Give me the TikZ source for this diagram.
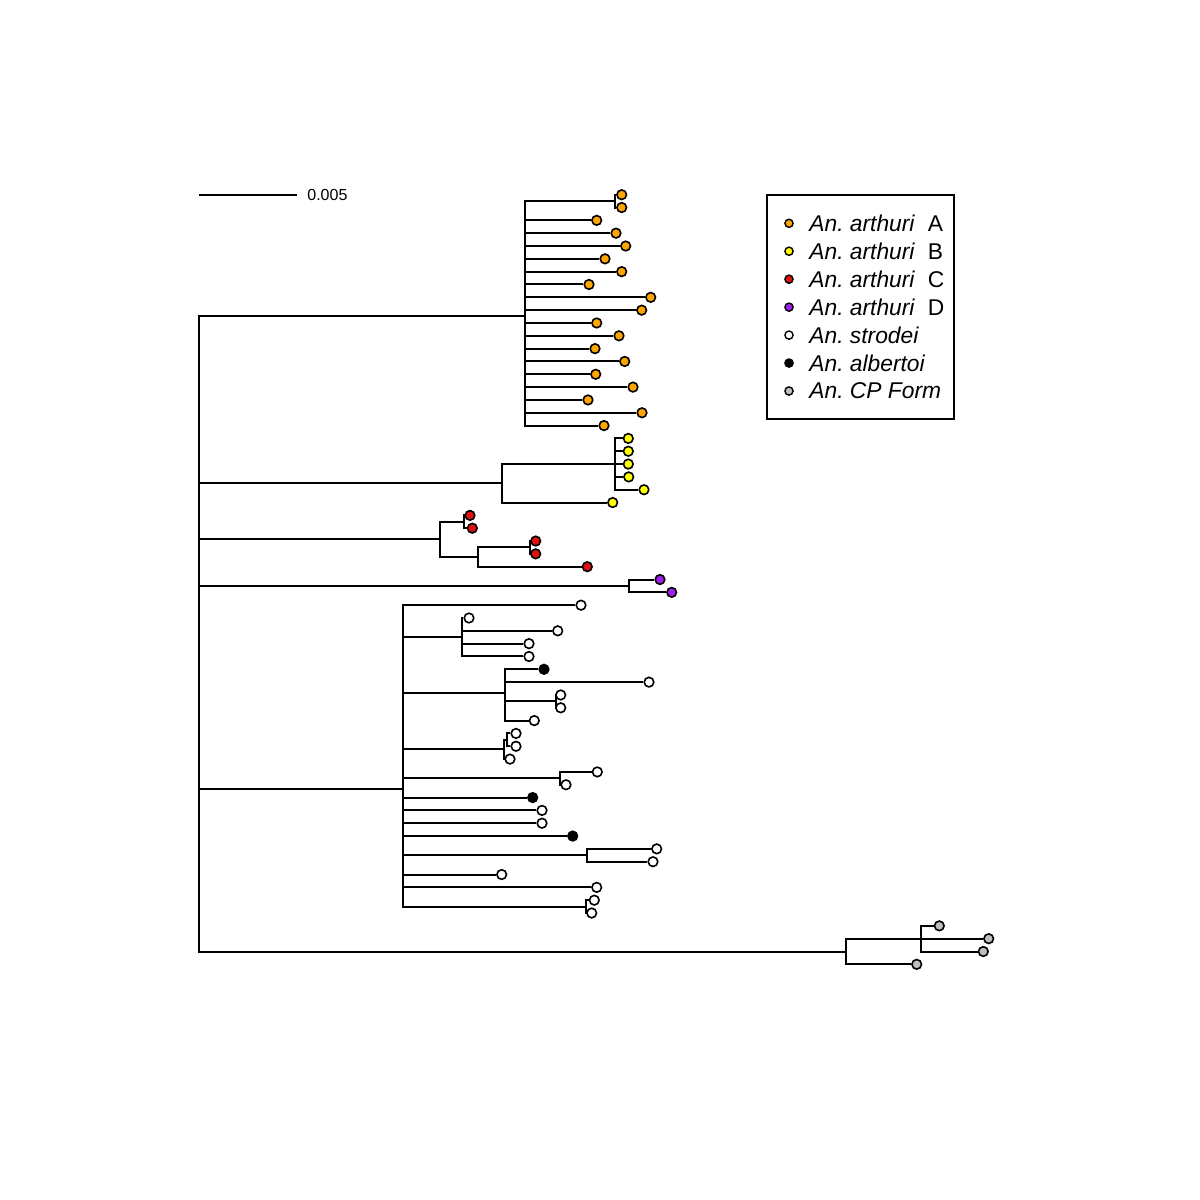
\documentclass[tikz,border=0pt]{standalone}
\usepackage{fontspec}
\setmainfont{Liberation Sans}
\usepackage{xcolor}
\usepackage{tikz}
\usetikzlibrary{positioning}
\definecolor{ArthA}{HTML}{FFA500}
\definecolor{ArthB}{HTML}{FFFF00}
\definecolor{ArthC}{HTML}{E31010}
\definecolor{ArthD}{HTML}{A020F0}
\definecolor{CPForm}{HTML}{BEBEBE}
\newcommand{\rowy}[1]{194.7+12.827*(#1)}
\frenchspacing

\begin{document}
\begin{tikzpicture}[
  x=0.5pt,y=-0.5pt,
  branch/.style={line width=1pt,color=black},
  tip/.style={circle,draw=black,line width=0.8pt,inner sep=0pt,minimum size=4.8pt},
  key/.style={circle,draw=black,line width=0.7pt,inner sep=0pt,minimum size=4.1pt},
  legtext/.style={inner sep=0pt,font=\fontsize{11.4}{13}\selectfont},
  legframe/.style={draw=black,line width=0.9pt,minimum width=93.5pt,minimum height=112pt,inner sep=0pt},
  scaletext/.style={inner sep=0pt,font=\fontsize{8}{9.5}\selectfont}]
\useasboundingbox (0,0) rectangle (1200,1200);
% tips, top to bottom
\foreach \x/\c [count=\i from 0] in {
  621.7/ArthA,621.7/ArthA,596.7/ArthA,616/ArthA,625.7/ArthA,605/ArthA,621.7/ArthA,
  589/ArthA,650.7/ArthA,641.7/ArthA,596.7/ArthA,619/ArthA,595/ArthA,624.7/ArthA,
  595.7/ArthA,633/ArthA,588/ArthA,642/ArthA,604/ArthA,
  628.3/ArthB,628.3/ArthB,628.3/ArthB,628.7/ArthB,644/ArthB,612.7/ArthB,
  470/ArthC,472.3/ArthC,535.7/ArthC,535.7/ArthC,587.3/ArthC,
  660/ArthD,671.7/ArthD,
  581/white,469/white,557.7/white,529/white,529/white,544/black,649/white,
  560.7/white,560.7/white,534.3/white,516/white,516/white,510/white,597.3/white,
  566/white,532.7/black,542/white,542/white,572.7/black,656.7/white,653/white,
  501.7/white,596.7/white,594.3/white,591.7/white,
  939.3/CPForm,988.7/CPForm,983.3/CPForm,916.7/CPForm}
  \node[tip,fill=\c] (t\i) at (\x,{\rowy{\i}}) {};
% inner nodes
\coordinate (root) at (199,610.9);
\coordinate (a1) at (615,{\rowy{0.5}});
\coordinate (nA) at (525,{\rowy{9.472}});
\coordinate (b1) at (615,{\rowy{21}});
\coordinate (nB) at (502.3,{\rowy{22.5}});
\coordinate (c1) at (464.3,{\rowy{25.5}});
\coordinate (c3) at (530,{\rowy{27.5}});
\coordinate (c2) at (478.3,{\rowy{28.25}});
\coordinate (nC) at (440,{\rowy{26.875}});
\coordinate (nD) at (629.3,{\rowy{30.5}});
\coordinate (s1) at (461.7,{\rowy{34.5}});
\coordinate (s2a) at (555.7,{\rowy{39.5}});
\coordinate (s2) at (505,{\rowy{38.875}});
\coordinate (s3a) at (507,{\rowy{42.5}});
\coordinate (s3) at (504.3,{\rowy{43.25}});
\coordinate (s4) at (560,{\rowy{45.5}});
\coordinate (s5) at (587.3,{\rowy{51.5}});
\coordinate (s6) at (586,{\rowy{55.5}});
\coordinate (nS) at (403.3,{\rowy{46.317}});
\coordinate (cp1) at (920.7,{\rowy{58}});
\coordinate (nCP) at (845.7,{\rowy{59}});
% branches
\foreach \a/\b in {root/nA,root/nB,root/nC,root/nD,root/nS,root/nCP,
  nA/a1,a1/t0,a1/t1,
  nB/b1,nB/t24,
  nC/c1,nC/c2,c1/t25,c1/t26,c2/c3,c2/t29,c3/t27,c3/t28,
  nD/t30,nD/t31,
  nS/t32,nS/s1,nS/s2,nS/s3,nS/s4,nS/t47,nS/t48,nS/t49,nS/t50,nS/s5,nS/t53,nS/t54,nS/s6,
  s1/t33,s1/t34,s1/t35,s1/t36,
  s2/t37,s2/t38,s2/s2a,s2/t41,s2a/t39,s2a/t40,
  s3/s3a,s3/t44,s3a/t42,s3a/t43,
  s4/t45,s4/t46,s5/t51,s5/t52,s6/t55,s6/t56,
  nCP/cp1,nCP/t60,cp1/t57,cp1/t58,cp1/t59}
  \draw[branch] (\a) |- (\b);
\foreach \n in {2,...,18}
  \draw[branch] (nA) |- (t\n);
\foreach \n in {19,...,23}
  \draw[branch] (b1) |- (t\n);
% scale bar
\coordinate (sb0) at (199,195);
\coordinate (sb1) at (297,195);
\draw[branch] (sb0) -- (sb1);
\node[scaletext,right=5pt of sb1] (sblab) {0.005};
% legend
\node[legframe] (frame) at (860.8,306.7) {};
\foreach \c/\t [count=\i from 0] in {
  ArthA/{\textit{An. arthuri}\ \ A},
  ArthB/{\textit{An. arthuri}\ \ B},
  ArthC/{\textit{An. arthuri}\ \ C},
  ArthD/{\textit{An. arthuri}\ \ D},
  white/{\textit{An. strodei}},
  black/{\textit{An. albertoi}},
  CPForm/{\textit{An. CP Form}}}{
  \node[key,fill=\c] (key\i) at (789,{223.3+27.95*\i}) {};
  \node[legtext,right=7.6pt of key\i] (lab\i) {\t};
}
\end{tikzpicture}
\end{document}
